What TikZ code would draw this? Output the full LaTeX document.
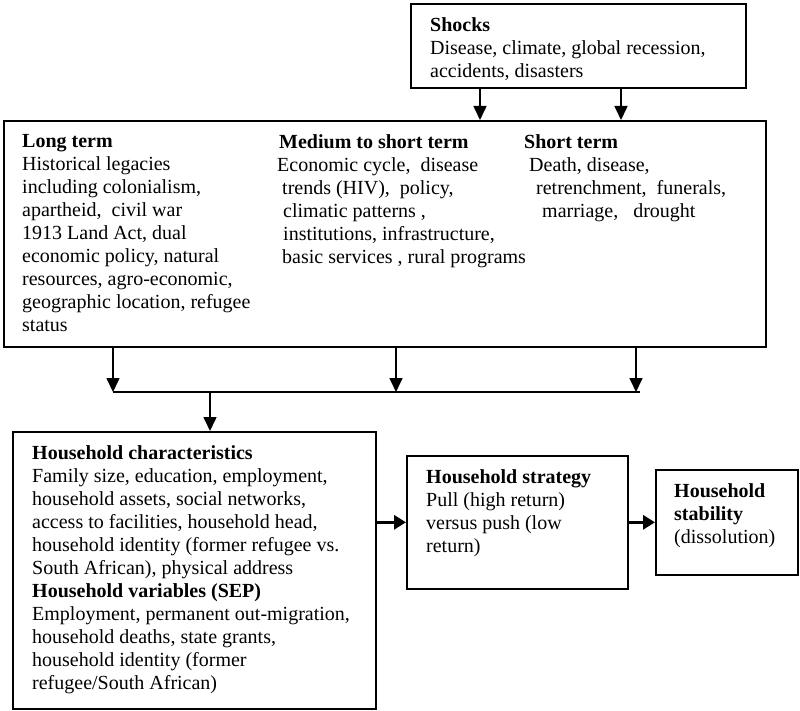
\documentclass[tikz,border=0pt]{standalone}
\usepackage{fontspec}
\setmainfont{Liberation Serif}
\usetikzlibrary{positioning, arrows.meta}

\begin{document}
\begin{tikzpicture}[x=1pt, y=-1pt, font=\fontsize{20}{23}\selectfont,
    box/.style={draw, line width=1.6pt, anchor=north west, inner sep=0pt},
    txt/.style={align=left, inner sep=0pt, anchor=north west},
    arr/.style={line width=1.6pt, -{Triangle[length=14pt, width=13pt]}},
    harr/.style={line width=3.5pt, -{Triangle[length=12pt, width=14pt]}}]
            \useasboundingbox (0,0) rectangle (800,711);
            \node[box, minimum width=335pt, minimum height=84pt] (shocks) at (410,3) {};
            \node[box, minimum width=762pt, minimum height=226pt] (long) at (3,120) {};
            \node[box, minimum width=363pt, minimum height=277pt] (hhchar) at (12,431) {};
            \node[box, minimum width=221pt, minimum height=133pt] (strategy) at (406,455) {};
            \node[box, minimum width=142pt, minimum height=105pt] (stability) at (655,469) {};
            % texts
            \node[txt, below right=14.5pt and 20pt of shocks.north west] (shockstxt)
                {\textbf{Shocks}\\Disease, climate, global recession,\\accidents, disasters};
            \node[txt, below right=14.5pt and 19pt of long.north west] (longtxt)
                {\textbf{Long term}\\Historical legacies\\including colonialism,\\apartheid,\ \ civil war\\1913 Land Act, dual\\economic policy, natural\\resources, agro-economic,\\geographic location, refugee\\status};
            \node[txt, below right=14.5pt and 276pt of long.north west] (medtxt)
                {\textbf{Medium to short term}\\\hspace*{-2pt}Economic cycle,\ \ disease\\\hspace*{3pt}trends (HIV),\ \ policy,\\\hspace*{4pt}climatic patterns ,\\\hspace*{4pt}institutions, infrastructure,\\\hspace*{3pt}basic services , rural programs};
            \node[txt, below right=14.5pt and 521pt of long.north west] (shorttxt)
                {\textbf{Short term}\\\hspace*{5pt}Death, disease,\\\hspace*{12pt}retrenchment,\ \ funerals,\\\hspace*{18pt}marriage,\ \ \ drought};
            \node[txt, below right=14.5pt and 20pt of hhchar.north west] (hhchartxt)
                {\textbf{Household characteristics}\\Family size, education, employment,\\household assets, social networks,\\access to facilities, household head,\\household identity (former refugee vs.\\South African), physical address\\\textbf{Household variables (SEP)}\\Employment, permanent out-migration,\\household deaths, state grants,\\household identity (former\\refugee/South African)};
            \node[txt, below right=14.5pt and 20pt of strategy.north west] (strategytxt)
                {\textbf{Household strategy}\\Pull (high return)\\versus push (low\\return)};
            \node[txt, below right=14.5pt and 19pt of stability.north west] (stabilitytxt)
                {\textbf{Household}\\\textbf{stability}\\(dissolution)};
            % connectors
            \coordinate (s1) at (480,100);
            \coordinate (s2) at (621,100);
            \coordinate (b1) at (113,392);
            \coordinate (b2) at (396,392);
            \coordinate (b3) at (636,392);
            \coordinate (bend) at (640,392);
            \coordinate (bdrop) at (210,392);
            \draw[arr] (shocks.south -| s1) -- (long.north -| s1);
            \draw[arr] (shocks.south -| s2) -- (long.north -| s2);
            \draw[arr] (long.south -| b1) -- (b1);
            \draw[arr] (long.south -| b2) -- (b2);
            \draw[arr] (long.south -| b3) -- (b3);
            \draw[line width=1.6pt] (b1) -- (bend);
            \draw[arr] (bdrop) -- (hhchar.north -| bdrop);
            \draw[harr] (strategy.west -| hhchar.east) -- (strategy.west);
            \draw[harr] (strategy.east) -- (stability.west);
        \end{tikzpicture}
\end{document}
